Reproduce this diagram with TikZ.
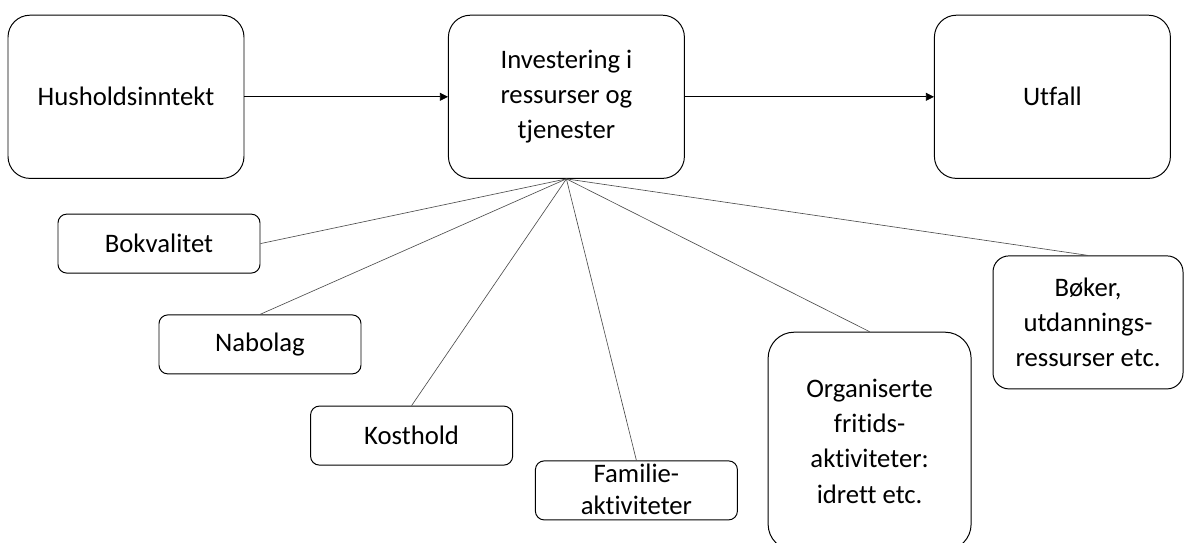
\documentclass[tikz,border=0pt]{standalone}
\usepackage{fontspec}
\setmainfont{Carlito}[Ligatures=NoCommon]
\usetikzlibrary{positioning,calc,arrows,arrows.meta}
\tikzset{font=\fontsize{19}{25}\selectfont}

\begin{document}
\begin{tikzpicture}[>={Triangle[length=2mm,width=2mm]}]
	\useasboundingbox (0,0) rectangle (29.625,-13.575);
	\begin{scope}
		\tikzstyle{every node}=[align=center, inner sep=1pt]
		\tikzstyle{bigbox}=[draw, line width=0.7pt, rounded corners=0.55cm, minimum width=5.9cm, minimum height=4.08cm]
		\tikzstyle{smallbox}=[draw, line width=0.7pt, rounded corners=0.22cm, minimum width=5.05cm, minimum height=1.475cm]
		\tikzstyle{spoke}=[draw=black!70, line width=0.45pt]

		\node[bigbox] (inntekt) at (3.15, -2.42) {Husholdsinntekt};
		\node[bigbox] (invest) at (14.16, -2.42) {Investering i\\ressurser og\\tjenester};
		\node[bigbox] (utfall) at (26.31, -2.42) {Utfall};

		\node[smallbox] (bokvalitet) at (3.975, -6.09) {Bokvalitet};
		\node[smallbox] (nabolag) at (6.5, -8.61) {Nabolag};
		\node[smallbox] (kosthold) at (10.29, -10.89) {Kosthold};
		\node[smallbox] (familie) at (15.91, -12.26) {};
		\node[font=\fontsize{19}{23}\selectfont] (familietxt) at ([yshift=0.02cm]familie.center) {Familie-\\aktiviteter};
		\node[smallbox, rounded corners=0.65cm, minimum width=5.075cm, minimum height=5.45cm] (fritid) at (21.74, -11.03) {Organiserte\\fritids-\\aktiviteter:\\idrett etc.};
		\node[smallbox, rounded corners=0.4cm, minimum width=4.75cm, minimum height=3.325cm] (boker) at (27.2, -8.06) {Bøker,\\utdannings-\\ressurser etc.};

		\draw[->, line width=0.5pt] (inntekt) -- (invest);
		\draw[->, line width=0.5pt] (invest) -- (utfall);

		\draw[spoke] (invest.south) -- (bokvalitet.east);
		\draw[spoke] (invest.south) -- (nabolag.north);
		\draw[spoke] (invest.south) -- (kosthold.north);
		\draw[spoke] (invest.south) -- (familie.north);
		\draw[spoke] (invest.south) -- (fritid.north);
		\draw[spoke] (invest.south) -- (boker.north);

	\end{scope}
\end{tikzpicture}
\end{document}
